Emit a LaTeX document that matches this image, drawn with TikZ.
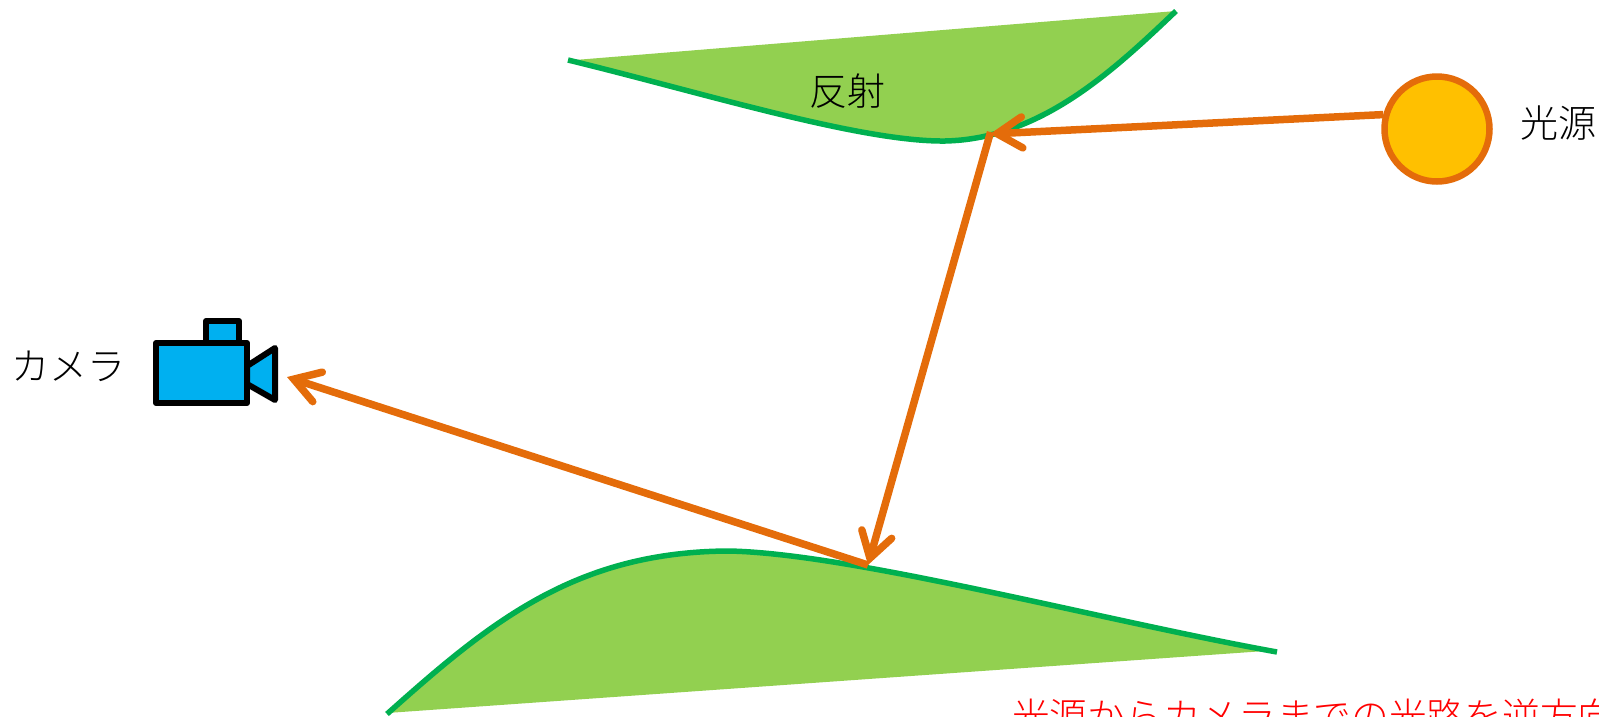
\documentclass[tikz,border=0pt]{standalone}
\usepackage{fontspec}
\setmainfont{Noto Sans CJK JP}[UprightFont={* Light}]
\usetikzlibrary{arrows.meta}
\definecolor{leaf}{HTML}{92D050}
\definecolor{leafline}{HTML}{00B050}
\definecolor{ray}{HTML}{E46C0A}
\definecolor{sun}{HTML}{FFC000}
\definecolor{cam}{HTML}{00B0F0}
\tikzset{
  leafshape/.style={fill=leaf,draw=none},
  leafedge/.style={draw=leafline,line width=5.5pt},
  rayline/.style={draw=ray,line width=7.5pt,-{Straight Barb[length=25pt,width=31pt,line cap=round,line join=miter,line width=7.5pt]}},
  sunshape/.style={circle,draw=ray,fill=sun,line width=6.5pt,minimum size=105pt,inner sep=0pt},
  campart/.style={draw=black,fill=cam,line width=6pt,line join=round},
  label/.style={font=\fontsize{38pt}{38pt}\selectfont,text=black,inner sep=0pt},
  notelabel/.style={font=\fontsize{37.7pt}{38pt}\selectfont,text=red,inner sep=0pt}
}
\begin{document}
\begin{tikzpicture}[x=1pt,y=-1pt]
\useasboundingbox (0,0) rectangle (1599,716);
% top leaf
\fill[leafshape] (575,60) .. controls (700,92) and (870,142) .. (945,141) .. controls (1040,139) and (1112,72) .. (1176,11) -- cycle;
\draw[leafedge] (568,60) .. controls (700,92) and (860,142) .. (945,141) .. controls (1040,139) and (1112,72) .. (1176,11);
% bottom leaf
\fill[leafshape] (387,713) .. controls (490,622) and (575,552) .. (728,551) .. controls (850,553) and (1100,620) .. (1265,651) -- cycle;
\draw[leafedge] (387,714) .. controls (490,622) and (575,552) .. (728,551) .. controls (850,553) and (1100,620) .. (1277,652);
% camera
\draw[campart] (206,321) rectangle (239,343);
\draw[campart] (247,366) -- (275,348) -- (275,400) -- (247,384) -- cycle;
\draw[campart] (156,343) rectangle (247,403);
% labels
\node[label,anchor=center] (camlabel) at (69,366) {カメラ};
\node[label,anchor=center] (reflabel) at (847,91) {反射};
\node[label,anchor=west] (lightlabel) at (1520,123) {光源};
\node[notelabel,anchor=north west] (note) at (1012,699) {光源からカメラまでの光路を逆方向};
% sun
\node[sunshape] (sun) at (1437,129) {};
% rays
\coordinate (hit1) at (990,134);
\coordinate (hit2) at (868,565);
\coordinate (camend) at (287,377);
\draw[rayline] (sun.165) -- (hit1);
\draw[rayline,shorten <=-2pt] (hit1) -- (hit2);
\draw[rayline] (hit2) -- (camend);
\end{tikzpicture}
\end{document}
